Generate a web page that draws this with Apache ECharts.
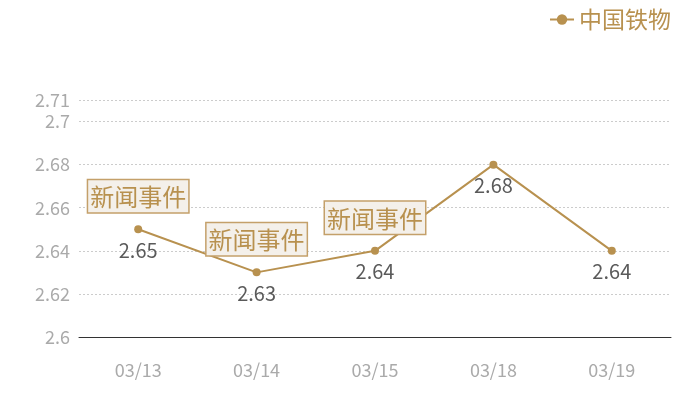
<!DOCTYPE html>
<html><head><meta charset="utf-8">
<script src="https://cdn.jsdelivr.net/npm/echarts@6/dist/echarts.min.js"></script>
<style>html,body{margin:0;padding:0;background:#fff}#c{width:700px;height:400px}</style>
</head><body><div id="c"></div>
<script>
const categories = ['03/13','03/14','03/15','03/18','03/19'];
const values = [2.65, 2.63, 2.64, 2.68, 2.64];
const seriesName = '中国铁物';
const eventIndices = [0, 1, 2];
const eventText = '新闻事件';

const gold = '#b8914f';
const font = '"Noto Sans CJK SC", "Noto Sans", sans-serif';
const chart = echarts.init(document.getElementById('c'));
chart.setOption({
  animation: false,
  textStyle: { fontFamily: font },
  legend: {
    right: 24, top: 3, itemWidth: 24, itemHeight: 13, itemGap: 6,
    textStyle: { color: gold, fontSize: 23, fontFamily: font },
    data: [seriesName]
  },
  grid: { left: 79, right: 29, top: 100, bottom: 63 },
  xAxis: {
    type: 'category', data: categories, boundaryGap: true,
    axisLine: { lineStyle: { color: '#333', width: 1 } },
    axisTick: { show: false },
    axisLabel: { color: '#aaa', fontSize: 18, margin: 24, fontFamily: font }
  },
  yAxis: {
    type: 'value', min: 2.6, max: 2.71, interval: 0.02,
    axisLine: { show: false }, axisTick: { show: false },
    axisLabel: { color: '#aaa', fontSize: 18, margin: 9, fontFamily: font },
    splitLine: { lineStyle: { color: '#ccc', type: [2, 2] } }
  },
  series: [{
    name: seriesName, type: 'line', data: values,
    symbol: 'circle', symbolSize: 8,
    itemStyle: { color: gold },
    lineStyle: { color: gold, width: 2 },
    label: { show: true, position: 'bottom', distance: 7, color: '#5a5a5a', fontSize: 20, fontFamily: font },
    markPoint: {
      symbol: 'circle', symbolSize: 0,
      label: {
        show: true, position: 'top', distance: 17,
        formatter: eventText, color: gold, fontSize: 24, fontFamily: font,
        backgroundColor: '#f4f0ea', borderColor: '#c4a06a', borderWidth: 1.5,
        padding: [5, 2, 3, 2]
      },
      data: eventIndices.map(i => ({ coord: [i, values[i]], value: eventText }))
    }
  }]
});
</script></body></html>
